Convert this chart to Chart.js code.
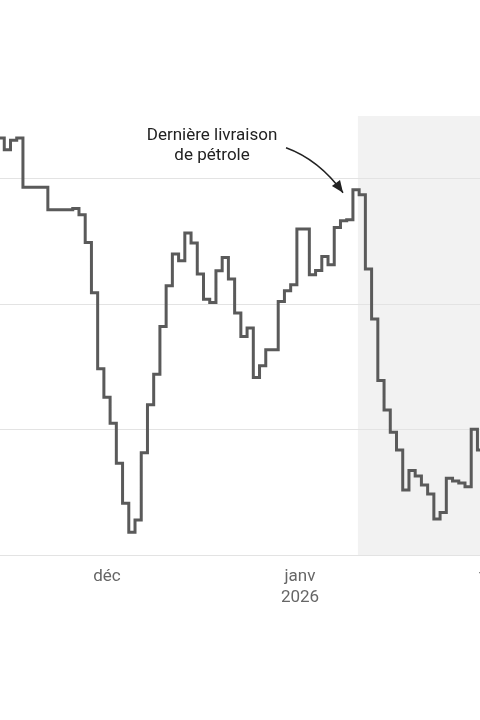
<!DOCTYPE html>
<html lang="fr">
<head>
<meta charset="utf-8">
<title>Dernière livraison de pétrole</title>
<script src="https://cdn.jsdelivr.net/npm/chart.js@4/dist/chart.umd.min.js"></script>
<style>
  html, body { margin: 0; padding: 0; background: #fff; overflow: hidden; }
  body { width: 480px; height: 720px; position: relative; }
  #wrap { position: absolute; left: -40px; top: 0; width: 600px; height: 720px; }
</style>
</head>
<body>
<div id="wrap"><canvas id="graphique"></canvas></div>
<script>
// jour 0 = 1er déc. 2025, une valeur par jour à partir du 13 nov.
const premierJour = -18;
const valeurs = [
  3325, 3325, 3231, 3306, 3325,
  2931, 2931, 2931, 2931,
  2753, 2753, 2753, 2753,
  2763, 2713, 2492, 2090, 1484,
  1258, 1051, 732, 413, 181, 279, 816, 1197, 1442, 1822,
  2146, 2399, 2346, 2567, 2487, 2240, 2040, 2013, 2266, 2372,
  2200, 1929, 1742, 1809, 1415, 1508, 1636, 1636, 2021, 2106,
  2154, 2599, 2599, 2234, 2268, 2380, 2314, 2612, 2665, 2673,
  2912, 2872, 2280, 1881, 1391, 1157, 979, 838, 519, 673,
  630, 559, 487, 287, 338, 612, 590, 574, 545, 1003,
  838, 838
];
const moisJours = [0, 31, 62];
const moisLabels = ['déc', ['janv', '2026'], 'févr'];
const yTicks = [0, 1000, 2000, 3000];
const debutZone = 40.3;      // début de la zone grisée
const jourLivraison = 40;    // pic annoté
const texteNote = ['Dernière livraison', 'de pétrole'];

const points = valeurs.map((v, i) => ({ x: premierJour + i, y: v }));

const zoneGrise = {
  id: 'zoneGrise',
  beforeDraw(chart) {
    const { ctx, chartArea, scales } = chart;
    const x0 = scales.x.getPixelForValue(debutZone);
    ctx.save();
    ctx.fillStyle = '#f2f2f2';
    ctx.fillRect(x0, chartArea.top, chartArea.right - x0, chartArea.bottom - chartArea.top);
    ctx.restore();
  }
};

const note = {
  id: 'note',
  afterDraw(chart) {
    const { ctx, scales } = chart;
    const v = valeurs[jourLivraison - premierJour];
    const tx = scales.x.getPixelForValue(jourLivraison) - 13;
    const ty = scales.y.getPixelForValue(v) + 3;
    const sx = tx - 57, sy = ty - 45;
    const cx = tx - 24, cy = ty - 33;

    ctx.save();
    ctx.strokeStyle = '#222';
    ctx.fillStyle = '#222';
    ctx.lineWidth = 1.5;
    ctx.beginPath();
    ctx.moveTo(sx, sy);
    ctx.quadraticCurveTo(cx, cy, tx, ty);
    ctx.stroke();

    const ang = Math.atan2(ty - cy, tx - cx);
    const len = 12, w = 5;
    ctx.beginPath();
    ctx.moveTo(tx, ty);
    ctx.lineTo(tx - len * Math.cos(ang) + w * Math.sin(ang), ty - len * Math.sin(ang) - w * Math.cos(ang));
    ctx.lineTo(tx - len * Math.cos(ang) - w * Math.sin(ang), ty - len * Math.sin(ang) + w * Math.cos(ang));
    ctx.closePath();
    ctx.fill();

    ctx.font = '17px Roboto';
    ctx.fillStyle = '#222';
    ctx.textAlign = 'center';
    ctx.textBaseline = 'middle';
    texteNote.forEach((t, i) => ctx.fillText(t, tx - 131, ty - 57 + i * 20));
    ctx.restore();
  }
};

const ctx = document.getElementById('graphique').getContext('2d');
new Chart(ctx, {
  type: 'line',
  data: {
    datasets: [{
      data: points,
      stepped: 'middle',
      borderColor: '#5a5a5a',
      borderWidth: 3,
      pointRadius: 0,
      fill: false
    }]
  },
  options: {
    responsive: true,
    maintainAspectRatio: false,
    animation: false,
    layout: { padding: { top: 116, left: 0, right: 0, bottom: 0 } },
    plugins: { legend: { display: false }, tooltip: { enabled: false } },
    scales: {
      x: {
        type: 'linear',
        min: -23.61,
        max: 72.76,
        grid: { display: false },
        border: { display: false },
        afterBuildTicks: s => { s.ticks = moisJours.map(v => ({ value: v })); },
        afterFit: s => { s.height = 165; },
        ticks: {
          autoSkip: false,
          maxRotation: 0,
          padding: 4,
          color: '#666',
          font: { family: 'Roboto', size: 17 },
          callback: v => moisLabels[moisJours.indexOf(v)]
        }
      },
      y: {
        min: 0,
        max: 3500,
        afterBuildTicks: s => { s.ticks = yTicks.map(v => ({ value: v })); },
        grid: { color: '#e3e3e3', lineWidth: 1, drawTicks: false },
        border: { display: false },
        ticks: { display: false }
      }
    }
  },
  plugins: [zoneGrise, note]
});
</script>
</body>
</html>
